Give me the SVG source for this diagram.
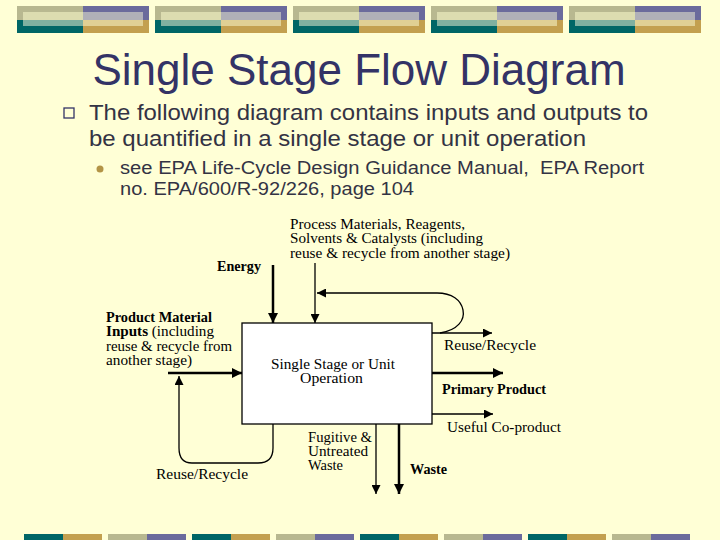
<svg xmlns="http://www.w3.org/2000/svg" width="720" height="540" viewBox="0 0 720 540">
<defs>
<marker id="ah" viewBox="0 0 10 10" refX="10" refY="5" markerWidth="14" markerHeight="10" markerUnits="userSpaceOnUse" orient="auto"><path d="M0,0 L10,5 L0,10 Z" fill="#000"/></marker>
<marker id="ahs" viewBox="0 0 10 10" refX="10" refY="5" markerWidth="13" markerHeight="9" markerUnits="userSpaceOnUse" orient="auto"><path d="M0,0 L10,5 L0,10 Z" fill="#000"/></marker>
<g id="blk">
<rect x="0" y="0" width="66" height="14" fill="#b8b890"/>
<rect x="66" y="0" width="66" height="14" fill="#6b6b9c"/>
<rect x="0" y="14" width="66" height="13" fill="#006666"/>
<rect x="66" y="14" width="66" height="13" fill="#c3a04f"/>
<rect x="6" y="6" width="60" height="8" fill="#dcdcb0"/>
<rect x="66" y="6" width="60" height="8" fill="#b0b0b8"/>
<rect x="6" y="14" width="60" height="6" fill="#80b0a0"/>
<rect x="66" y="14" width="60" height="6" fill="#e0d094"/>
</g>
<g id="bb1"><rect x="0" y="0" width="39" height="6" fill="#006666"/><rect x="39" y="0" width="39" height="6" fill="#c3a04f"/></g>
<g id="bb2"><rect x="0" y="0" width="39" height="6" fill="#b8b890"/><rect x="39" y="0" width="39" height="6" fill="#6b6b9c"/></g>
</defs>
<style>
.lbl{font-family:"Liberation Serif","DejaVu Serif",serif;font-size:14px;fill:#000}
.b{font-weight:bold}
.thick{stroke:#000;stroke-width:2.5;fill:none}
.thin{stroke:#000;stroke-width:1.3;fill:none}
.body{font-family:"Liberation Sans",Arial,sans-serif;fill:#333344}
</style>
<rect width="720" height="540" fill="#ffffd6"/>
<g id="topbar">
<use href="#blk" x="17" y="6"/>
<use href="#blk" x="155" y="6"/>
<use href="#blk" x="293" y="6"/>
<use href="#blk" x="431" y="6"/>
<use href="#blk" x="569" y="6"/>
</g>
<g id="bottombar">
<use href="#bb1" x="24" y="534"/>
<use href="#bb2" x="108" y="534"/>
<use href="#bb1" x="192" y="534"/>
<use href="#bb2" x="276" y="534"/>
<use href="#bb1" x="360" y="534"/>
<use href="#bb2" x="444" y="534"/>
<use href="#bb1" x="528" y="534"/>
<use href="#bb2" x="612" y="534"/>
</g>
<g id="title">
<text x="359" y="85" text-anchor="middle" font-family="Liberation Sans,Arial,sans-serif" font-size="44" fill="#333366">Single Stage Flow Diagram</text>
</g>
<g id="bullets">
<rect x="64" y="108" width="10" height="10" fill="none" stroke="#333366" stroke-width="1.3"/>
<text class="body" x="89" y="120" font-size="22" textLength="559" lengthAdjust="spacingAndGlyphs">The following diagram contains inputs and outputs to</text>
<text class="body" x="89" y="146" font-size="22" textLength="497" lengthAdjust="spacingAndGlyphs">be quantified in a single stage or unit operation</text>
<circle cx="100" cy="169" r="3.5" fill="#b39446"/>
<text class="body" x="120" y="174" font-size="17.5" textLength="524" lengthAdjust="spacingAndGlyphs" xml:space="preserve">see EPA Life-Cycle Design Guidance Manual,  EPA Report</text>
<text class="body" x="120" y="195" font-size="17.5" textLength="294" lengthAdjust="spacingAndGlyphs">no. EPA/600/R-92/226, page 104</text>
</g>
<g id="connectors">
<line class="thick" x1="273" y1="265" x2="273" y2="323" marker-end="url(#ah)"/>
<line class="thin" x1="315" y1="263" x2="315" y2="323" marker-end="url(#ahs)"/>
<path class="thin" d="M440,333 C458,330 465,320 463,310 C461,300 452,293 437,293 L317,293" marker-end="url(#ahs)"/>
<line class="thin" x1="432" y1="333" x2="492" y2="333" marker-end="url(#ahs)"/>
<line class="thick" x1="432" y1="373" x2="503" y2="373" marker-end="url(#ah)"/>
<line class="thin" x1="432" y1="414" x2="493" y2="414" marker-end="url(#ahs)"/>
<line class="thin" x1="376" y1="424" x2="376" y2="494" marker-end="url(#ahs)"/>
<line class="thick" x1="399" y1="424" x2="399" y2="494" marker-end="url(#ah)"/>
<line class="thick" x1="168" y1="373" x2="242" y2="373" marker-end="url(#ah)"/>
<path class="thin" d="M273,424 L273,448 C273,458 268,463 258,463 L192,463 C183,463 179,457 179,448 L179,376" marker-end="url(#ahs)"/>
</g>
<g id="stage">
<rect x="242" y="323" width="190" height="101" fill="#fff" stroke="#000" stroke-width="1.3"/>
<text class="lbl" x="271" y="369" textLength="124" lengthAdjust="spacingAndGlyphs">Single Stage or Unit</text>
<text class="lbl" x="300" y="383" textLength="63" lengthAdjust="spacingAndGlyphs">Operation</text>
</g>
<g id="labels">
<text class="lbl b" x="217" y="271" textLength="44" lengthAdjust="spacingAndGlyphs">Energy</text>
<text class="lbl" x="290" y="229" textLength="175" lengthAdjust="spacingAndGlyphs">Process Materials, Reagents,</text>
<text class="lbl" x="290" y="243" textLength="193" lengthAdjust="spacingAndGlyphs">Solvents &amp; Catalysts (including</text>
<text class="lbl" x="290" y="258" textLength="220" lengthAdjust="spacingAndGlyphs">reuse &amp; recycle from another stage)</text>
<text class="lbl b" x="106" y="322" textLength="106" lengthAdjust="spacingAndGlyphs">Product Material</text>
<text class="lbl" x="106" y="336" textLength="108" lengthAdjust="spacingAndGlyphs"><tspan class="b">Inputs</tspan> (including</text>
<text class="lbl" x="106" y="351" textLength="126" lengthAdjust="spacingAndGlyphs">reuse &amp; recycle from</text>
<text class="lbl" x="106" y="365" textLength="86" lengthAdjust="spacingAndGlyphs">another stage)</text>
<text class="lbl" x="444" y="350" textLength="92" lengthAdjust="spacingAndGlyphs">Reuse/Recycle</text>
<text class="lbl b" x="442" y="394" textLength="104" lengthAdjust="spacingAndGlyphs">Primary Product</text>
<text class="lbl" x="447" y="432" textLength="114" lengthAdjust="spacingAndGlyphs">Useful Co-product</text>
<text class="lbl" x="308" y="442" textLength="64" lengthAdjust="spacingAndGlyphs">Fugitive &amp;</text>
<text class="lbl" x="308" y="456" textLength="60" lengthAdjust="spacingAndGlyphs">Untreated</text>
<text class="lbl" x="308" y="470" textLength="35" lengthAdjust="spacingAndGlyphs">Waste</text>
<text class="lbl b" x="410" y="474" textLength="37" lengthAdjust="spacingAndGlyphs">Waste</text>
<text class="lbl" x="156" y="479" textLength="92" lengthAdjust="spacingAndGlyphs">Reuse/Recycle</text>
</g>
</svg>
